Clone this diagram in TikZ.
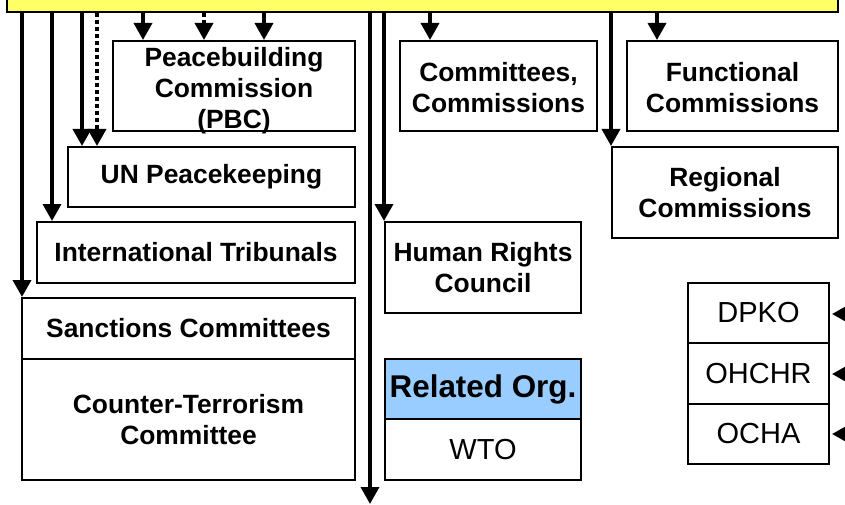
\documentclass[tikz,border=0pt]{standalone}
\usepackage{fontspec}
\setmainfont{Liberation Sans}
\usetikzlibrary{arrows.meta}

\definecolor{bannerYellow}{RGB}{255,255,102}
\definecolor{relBlue}{RGB}{153,204,255}

\tikzset{
	unbox/.style={draw, line width=2pt, fill=white, inner sep=0pt, align=center,
		font=\bfseries\fontsize{26.4}{31}\selectfont},
	plainbox/.style={unbox, font=\fontsize{29}{34}\selectfont},
	arr/.style={line width=3.5pt, -{Triangle[length=17pt,width=18pt]}},
	darr/.style={arr, dash pattern=on 4pt off 3pt},
}

\begin{document}
\begin{tikzpicture}[x=1pt, y=-1pt]
		\clip (0,0) rectangle (845,505);
		\fill[white] (0,0) rectangle (845,505);
		\node[unbox, fill=bannerYellow, minimum width=831pt, minimum height=32pt] (top) at (422.5, -4) {};
		% Security Council side
		\node[unbox, minimum width=242pt, minimum height=90pt] (pbc) at (234, 86) {\rule{0pt}{23pt}Peacebuilding\\Commission\\\raisebox{0pt}[\height][0pt]{(PBC)}};
		\node[unbox, minimum width=287pt, minimum height=60pt] (unpk) at (211.5, 177) {UN Peacekeeping};
		\node[unbox, minimum width=318pt, minimum height=61pt] (trib) at (196, 252.5) {International Tribunals};
		\node[unbox, minimum width=333pt, minimum height=61pt] (sanc) at (188.5, 328.5) {Sanctions Committees};
		\node[unbox, minimum width=333pt, minimum height=121pt] (ctc) at (188.5, 419.5) {Counter-Terrorism\\Committee};
		% General Assembly side
		\node[unbox, minimum width=197pt, minimum height=90pt] (comm) at (498.5, 86) {\rule{0pt}{23pt}Committees,\\Commissions};
		\node[unbox, minimum width=196pt, minimum height=91pt] (hrc) at (483, 267.5) {Human Rights\\Council};
		\node[unbox, fill=relBlue, minimum width=196pt, minimum height=60pt, font=\bfseries\fontsize{31.4}{36}\selectfont] (rel) at (483, 389) {Related Org.};
		\node[plainbox, minimum width=196pt, minimum height=61pt] (wto) at (483, 449.5) {WTO};
		% ECOSOC side
		\node[unbox, minimum width=211pt, minimum height=90pt] (func) at (732.5, 86) {\rule{0pt}{23pt}Functional\\Commissions};
		\node[unbox, minimum width=226pt, minimum height=91pt] (regc) at (725, 192.5) {Regional\\Commissions};
		% Secretariat
		\node[plainbox, minimum width=141pt, minimum height=60pt] (dpko) at (758.5, 313) {DPKO};
		\node[plainbox, minimum width=141pt, minimum height=61pt] (ohchr) at (758.5, 373.5) {OHCHR};
		\node[plainbox, minimum width=141pt, minimum height=60pt] (ocha) at (758.5, 434) {OCHA};
		\coordinate (down) at (370, 504);
		\coordinate (inA) at (850, 314);
		\coordinate (inB) at (850, 374);
		\coordinate (inC) at (850, 434);
		\draw[arr] (22,0 |- top.south) -- (22,0 |- sanc.north);
		\draw[arr] (52,0 |- top.south) -- (52,0 |- trib.north);
		\draw[arr] (82,0 |- top.south) -- (82,0 |- unpk.north);
		\draw[darr] (97,0 |- top.south) -- (97,0 |- unpk.north);
		\draw[arr] (143,0 |- top.south) -- (143,0 |- pbc.north);
		\draw[darr] (204,0 |- top.south) -- (204,0 |- pbc.north);
		\draw[arr] (264,0 |- top.south) -- (264,0 |- pbc.north);
		\draw[arr] (down |- top.south) -- (down);
		\draw[arr] (hrc.north west |- top.south) -- (hrc.north west);
		\draw[arr] (430,0 |- top.south) -- (430,0 |- comm.north);
		\draw[arr] (regc.north west |- top.south) -- (regc.north west);
		\draw[arr] (657,0 |- top.south) -- (657,0 |- func.north);
		\draw[arr] (inA) -- ([xshift=2pt]dpko.east |- inA);
		\draw[arr] (inB) -- ([xshift=2pt]ohchr.east |- inB);
		\draw[arr] (inC) -- ([xshift=2pt]ocha.east |- inC);
	\end{tikzpicture}
\end{document}
